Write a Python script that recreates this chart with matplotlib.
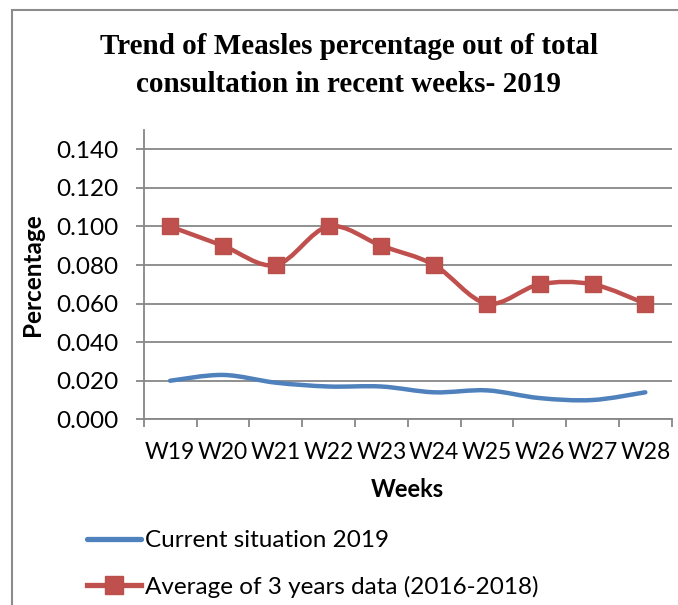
import numpy as np
import matplotlib
matplotlib.use('Agg')
import matplotlib.pyplot as plt
from matplotlib.path import Path
from matplotlib.patches import PathPatch, Rectangle
from matplotlib.lines import Line2D

weeks = ['W19', 'W20', 'W21', 'W22', 'W23', 'W24', 'W25', 'W26', 'W27', 'W28']
current_2019 = [0.020, 0.023, 0.019, 0.017, 0.017, 0.014, 0.015, 0.011, 0.010, 0.014]
avg_2016_2018 = [0.100, 0.090, 0.080, 0.100, 0.090, 0.080, 0.060, 0.070, 0.070, 0.060]
yticks = [0.000, 0.020, 0.040, 0.060, 0.080, 0.100, 0.120, 0.140]

BLUE = '#4F81BD'
RED = '#C0504D'
GRID = '#878787'
SANS = ['Lato', 'DejaVu Sans']


def smooth_path(xs, ys):
    # bezier curve through the points, like excel "smoothed line"
    pts = np.column_stack([xs, ys]).astype(float)
    n = len(pts)
    verts = [pts[0]]
    codes = [Path.MOVETO]
    for i in range(n - 1):
        p0 = pts[i - 1] if i > 0 else pts[i]
        p1 = pts[i]
        p2 = pts[i + 1]
        p3 = pts[i + 2] if i + 2 < n else pts[i + 1]
        c1 = p1 + (p2 - p0) / 6.0
        c2 = p2 - (p3 - p1) / 6.0
        verts += [c1, c2, p2]
        codes += [Path.CURVE4] * 3
    return Path(verts, codes)


fig = plt.figure(figsize=(6.78, 6.05), dpi=100)
ax = fig.add_axes([143.7 / 678, 1 - 419.3 / 605, 528 / 678, 289.3 / 605])

x = np.arange(len(weeks))
ax.add_patch(PathPatch(smooth_path(x, current_2019), fill=False, edgecolor=BLUE,
                       lw=3.2, capstyle='round', joinstyle='round', zorder=3))
ax.add_patch(PathPatch(smooth_path(x, avg_2016_2018), fill=False, edgecolor=RED,
                       lw=3.2, capstyle='round', joinstyle='round', zorder=3))
ax.plot(x, avg_2016_2018, linestyle='none', marker='s', markersize=12,
        markerfacecolor=RED, markeredgecolor='#B8504C', zorder=4)

ax.set_xlim(-0.5, len(weeks) - 0.5)
ax.set_ylim(0, 0.15)
ax.set_yticks(yticks)
ax.set_yticklabels(['%.3f' % v for v in yticks])
ax.yaxis.grid(True, color=GRID, lw=1.3)
ax.set_axisbelow(True)

# category ticks on the boundaries, labels in the middle
ax.set_xticks(np.arange(len(weeks) + 1) - 0.5)
ax.set_xticklabels([])
ax.set_xticks(x, minor=True)
ax.set_xticklabels(weeks, minor=True)
ax.tick_params(axis='x', which='major', length=6, width=1.3, color=GRID, direction='out')
ax.tick_params(axis='x', which='minor', length=0, pad=16, labelsize=16.5)
ax.tick_params(axis='y', length=6, width=1.3, color=GRID, pad=12, labelsize=17.5)
for lab in ax.get_xticklabels(minor=True) + ax.get_yticklabels():
    lab.set_family(SANS)

for s in ['top', 'right']:
    ax.spines[s].set_visible(False)
ax.spines['left'].set_color(GRID)
ax.spines['bottom'].set_color(GRID)
ax.spines['left'].set_linewidth(1.3)
ax.spines['bottom'].set_linewidth(1.3)

ax.set_xlabel('Weeks', family=SANS, fontweight='bold', fontsize=17, labelpad=11)
ax.set_ylabel('Percentage', family=SANS, fontweight='bold', fontsize=17.5, labelpad=9)

fig.text(349 / 678, 1 - 47 / 605, 'Trend of Measles percentage out of total',
         ha='center', va='center', family=['Liberation Serif'], fontweight='bold', fontsize=21)
fig.text(349 / 678, 1 - 85 / 605, 'consultation in recent weeks- 2019',
         ha='center', va='center', family=['Liberation Serif'], fontweight='bold', fontsize=21)

handles = [Line2D([], [], color=BLUE, lw=3.8, solid_capstyle='round'),
           Line2D([], [], color=RED, lw=3.8, marker='s', markersize=13,
                  markerfacecolor=RED, markeredgecolor='#B8504C')]
fig.legend(handles, ['Current situation 2019', 'Average of 3 years data (2016-2018)'],
           loc='upper left', bbox_to_anchor=(75 / 678, 1 - 518 / 605), frameon=False,
           prop={'family': SANS, 'size': 17.5}, handlelength=2.22, handletextpad=0.15,
           labelspacing=1.0, borderpad=0)

# outer chart frame (left and top edges visible in the crop)
fig.add_artist(Rectangle((12 / 678, -0.1), 1.0, 1 - 10 / 605 + 0.1,
                         transform=fig.transFigure, fill=False, edgecolor='#8c8c8c',
                         lw=1.5, clip_on=False))

fig.savefig('out.png', dpi=100)
